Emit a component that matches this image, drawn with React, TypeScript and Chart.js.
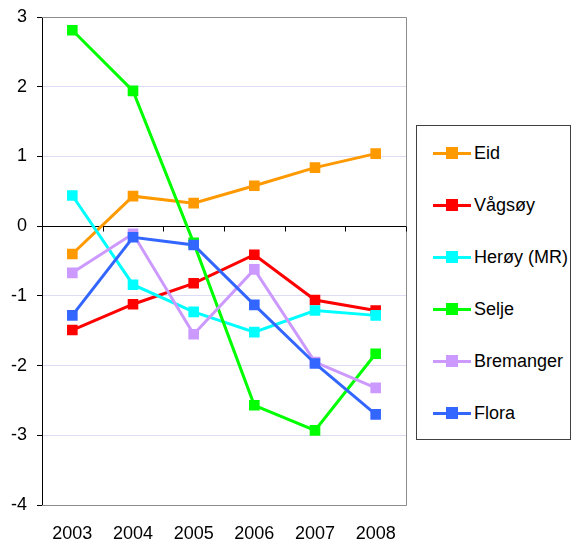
import React, { useEffect, useRef } from "react";
import { Chart, registerables } from "chart.js";

Chart.register(...registerables);

const years = ["2003", "2004", "2005", "2006", "2007", "2008"];
const seriesNames = ["Eid", "Vågsøy", "Herøy (MR)", "Selje", "Bremanger", "Flora"];
const seriesColors = ["#FF9900", "#FF0000", "#00FFFF", "#00FF00", "#CC99FF", "#3366FF"];
const eid = [-0.4, 0.43, 0.33, 0.58, 0.84, 1.04];
const vagsoy = [-1.49, -1.12, -0.82, -0.41, -1.06, -1.21];
const heroy = [0.44, -0.84, -1.23, -1.52, -1.21, -1.28];
const selje = [2.81, 1.94, -0.24, -2.57, -2.93, -1.83];
const bremanger = [-0.67, -0.11, -1.55, -0.62, -1.95, -2.32];
const flora = [-1.28, -0.16, -0.27, -1.13, -1.97, -2.7];
const yMin = -4;
const yMax = 3;
const yStep = 1;

const seriesValues = [eid, vagsoy, heroy, selje, bremanger, flora];
const FONT = "'Liberation Sans', Arial, sans-serif";

const framePlugin = {
  id: "frame",
  afterDraw(chart: any) {
    const { ctx, chartArea, scales } = chart;
    const x = scales.x;
    const y = scales.y;
    ctx.save();
    ctx.strokeStyle = "#8c8c8c";
    ctx.lineWidth = 1;
    ctx.beginPath();
    ctx.moveTo(chartArea.left, chartArea.top + 0.5);
    ctx.lineTo(chartArea.right + 0.5, chartArea.top + 0.5);
    ctx.lineTo(chartArea.right + 0.5, chartArea.bottom + 0.5);
    ctx.lineTo(chartArea.left, chartArea.bottom + 0.5);
    ctx.stroke();
    const zy = Math.round(y.getPixelForValue(0)) + 0.5;
    ctx.strokeStyle = "#000";
    ctx.beginPath();
    const n = years.length;
    for (let i = 0; i < n; i++) {
      const px =
        i < n - 1
          ? (x.getPixelForTick(i) + x.getPixelForTick(i + 1)) / 2
          : chartArea.right;
      const rx = Math.round(px) + 0.5;
      ctx.moveTo(rx, zy);
      ctx.lineTo(rx, zy + 5);
    }
    ctx.stroke();
    ctx.restore();
  },
};

export default function App() {
  const canvasRef = useRef<HTMLCanvasElement | null>(null);

  useEffect(() => {
    if (!canvasRef.current) return;
    const chart = new Chart(canvasRef.current, {
      type: "line",
      data: {
        labels: years,
        datasets: seriesNames.map((name, i) => ({
          label: name,
          data: seriesValues[i],
          borderColor: seriesColors[i],
          backgroundColor: seriesColors[i],
          borderWidth: 3,
          pointStyle: "rect",
          pointRadius: 7.5,
          pointBorderWidth: 0,
          pointBackgroundColor: seriesColors[i],
          tension: 0,
          order: seriesNames.length - i,
        })),
      },
      options: {
        responsive: false,
        animation: false,
        devicePixelRatio: 1,
        layout: { padding: { top: 17, right: 165, left: 0, bottom: 0 } },
        plugins: {
          legend: { display: false },
          tooltip: { enabled: false },
        },
        scales: {
          x: {
            type: "category",
            offset: true,
            grid: { display: false },
            border: { display: false },
            ticks: {
              color: "#000",
              font: { family: FONT, size: 18 },
              padding: 10,
              maxRotation: 0,
            },
            afterFit(scale: any) {
              scale.height = 34;
            },
          },
          y: {
            min: yMin,
            max: yMax,
            ticks: {
              stepSize: yStep,
              color: "#000",
              font: { family: FONT, size: 18 },
              padding: 10,
            },
            grid: {
              color: (ctx: any) => {
                const v = ctx.tick ? ctx.tick.value : null;
                if (v === 0) return "#000";
                if (v === yMin || v === yMax) return "rgba(0,0,0,0)";
                return "#DCDCF5";
              },
              tickColor: "#000",
              tickLength: 5,
            },
            border: { display: true, color: "#000", width: 1 },
            afterFit(scale: any) {
              scale.width = 42;
              scale.paddingTop = 0;
              scale.paddingBottom = 0;
            },
          },
        },
      },
      plugins: [framePlugin],
    } as any);
    return () => chart.destroy();
  }, []);

  return (
    <div style={{ position: "absolute", left: 0, top: 0, width: 571, height: 539, background: "#fff" }}>
      <canvas ref={canvasRef} width={571} height={539} style={{ position: "absolute", left: 0, top: 0 }} />
      <div
        style={{
          position: "absolute",
          left: 416,
          top: 125,
          width: 155,
          height: 315,
          boxSizing: "border-box",
          border: "1px solid #404040",
          background: "#fff",
          fontFamily: FONT,
          fontSize: 18,
          color: "#000",
        }}
      >
        {seriesNames.map((name, i) => (
          <div
            key={name}
            style={{ position: "absolute", left: 0, top: 17 + 52 * i, height: 20, width: 150 }}
          >
            <div
              style={{
                position: "absolute",
                left: 16,
                top: 8.5,
                width: 38,
                height: 3,
                background: seriesColors[i],
              }}
            />
            <div
              style={{
                position: "absolute",
                left: 29,
                top: 4,
                width: 12,
                height: 12,
                background: seriesColors[i],
              }}
            />
            <div
              style={{
                position: "absolute",
                left: 57,
                top: 0,
                lineHeight: "20px",
                whiteSpace: "nowrap",
              }}
            >
              {name}
            </div>
          </div>
        ))}
      </div>
    </div>
  );
}
